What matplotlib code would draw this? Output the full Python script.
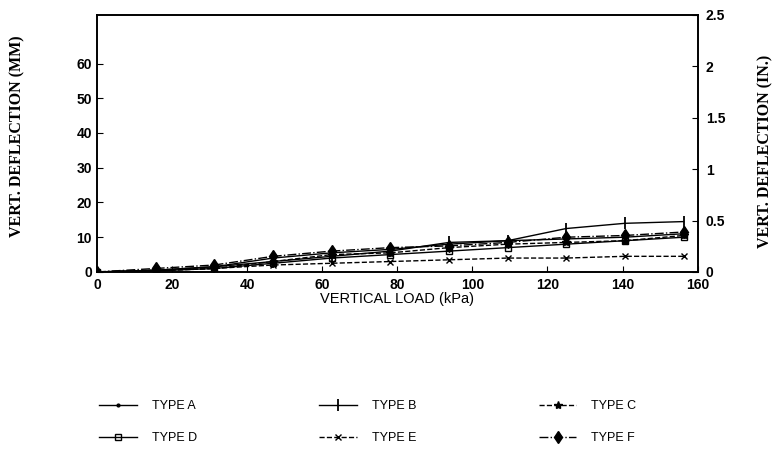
import matplotlib
matplotlib.use("Agg")
import matplotlib.pyplot as plt
from matplotlib.ticker import MultipleLocator

# Vertical load (kPa) and deflection (mm) per geogrid type
load = [0, 15.6, 31.3, 46.9, 62.5, 78.1, 93.8, 109.4, 125.0, 140.6, 156.3]
type_a = [0, 0.5, 1.5, 4.0, 5.5, 6.5, 8.0, 9.0, 9.5, 10.0, 11.0]
type_b = [0, 0.5, 1.5, 3.0, 4.5, 6.0, 8.5, 9.0, 12.5, 14.0, 14.5]
type_c = [0, 0.5, 1.0, 3.0, 5.0, 5.5, 7.0, 8.0, 8.5, 9.0, 10.5]
type_d = [0, 0.3, 1.0, 2.5, 4.0, 5.0, 6.0, 7.0, 8.0, 9.0, 10.0]
type_e = [0, 0.3, 1.0, 2.0, 2.5, 3.0, 3.5, 4.0, 4.0, 4.5, 4.5]
type_f = [0, 1.0, 2.0, 4.5, 6.0, 7.0, 7.5, 8.5, 10.0, 10.5, 11.5]

series = [
	("TYPE A", type_a, dict(marker='.', ls='-', ms=4)),
	("TYPE B", type_b, dict(marker='|', ls='-', ms=9, mew=1.3)),
	("TYPE C", type_c, dict(marker='*', ls='--', ms=6)),
	("TYPE D", type_d, dict(marker='s', ls='-', ms=5, mfc='none')),
	("TYPE E", type_e, dict(marker='x', ls='--', ms=5)),
	("TYPE F", type_f, dict(marker='d', ls='-.', ms=6)),
]

plt.rcParams['font.family'] = ['Liberation Sans', 'DejaVu Sans']

fig = plt.figure(figsize=(7.79, 4.51), dpi=100)
ax = fig.add_axes([0.1245, 0.397, 0.771, 0.57])

for name, vals, style in series:
	ax.plot(load, vals, color='black', lw=1.0, label=name, **style)

ax.set_xlim(0, 160)
ax.set_ylim(0, 74)
ax.xaxis.set_major_locator(MultipleLocator(20))
ax.set_yticks([0, 10, 20, 30, 40, 50, 60])
ax.tick_params(direction='in', labelsize=10, length=4)
ax.tick_params(axis='x', pad=4)
for lab in ax.get_xticklabels() + ax.get_yticklabels():
	lab.set_fontweight('bold')
ax.set_xlabel("VERTICAL LOAD (kPa)", fontsize=10.5, labelpad=0)
ax.set_ylabel("VERT. DEFLECTION (MM)", fontsize=11.5, fontweight='bold',
	family='Liberation Serif')
ax.yaxis.set_label_coords(-0.12, 0.53)

ax2 = ax.twinx()
ax2.set_ylim(0, 2.5)
ax2.set_yticks([0, 0.5, 1, 1.5, 2, 2.5])
ax2.set_yticklabels(['0', '0.5', '1', '1.5', '2', '2.5'])
ax2.tick_params(direction='in', labelsize=10, length=4, pad=6)
for lab in ax2.get_yticklabels():
	lab.set_fontweight('bold')
ax2.set_ylabel("VERT. DEFLECTION (IN.)", fontsize=11.5, fontweight='bold',
	family='Liberation Serif', rotation=90)
ax2.yaxis.set_label_coords(1.10, 0.47)

for sp in list(ax.spines.values()) + list(ax2.spines.values()):
	sp.set_linewidth(1.2)

handles, labels = ax.get_legend_handles_labels()
# reorder so the legend fills row by row in 3 columns
order = [0, 3, 1, 4, 2, 5]
fig.legend([handles[i] for i in order], [labels[i] for i in order],
	loc='upper left', bbox_to_anchor=(0.121, 0.124), ncol=3,
	frameon=False, fontsize=9, handlelength=3, handletextpad=1.2,
	columnspacing=9.8, labelspacing=1.6, borderaxespad=0)

fig.savefig("out.png", dpi=100)
